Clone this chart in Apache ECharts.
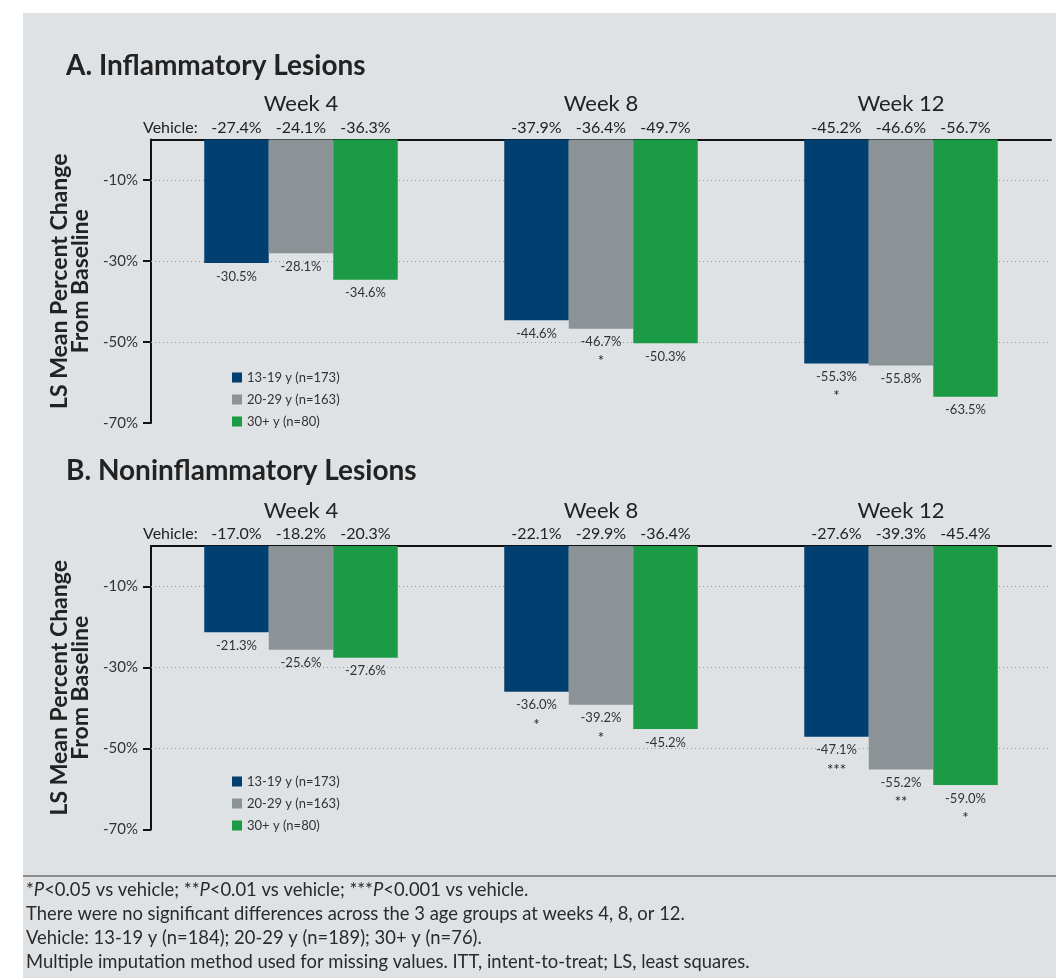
<!DOCTYPE html>
<html>
<head>
<meta charset="utf-8">
<script src="https://cdn.jsdelivr.net/npm/echarts@6/dist/echarts.min.js"></script>
<style>
html, body { margin: 0; padding: 0; background: #fff; }
#chart { width: 1056px; height: 978px; }
</style>
</head>
<body>
<div id="chart"></div>
<script>
var weeks = ['Week 4', 'Week 8', 'Week 12'];
var ageGroups = ['13-19 y (n=173)', '20-29 y (n=163)', '30+ y (n=80)'];
var yTicks = [-70, -50, -30, -10];
var gridLines = [-10, -30, -50];

// A. inflammatory lesions
var inflam13 = [-30.5, -44.6, -55.3];
var inflam20 = [-28.1, -46.7, -55.8];
var inflam30 = [-34.6, -50.3, -63.5];
var inflamSig13 = ['', '', '*'];
var inflamSig20 = ['', '*', ''];
var inflamSig30 = ['', '', ''];
var inflamVehicle = [[-27.4, -24.1, -36.3], [-37.9, -36.4, -49.7], [-45.2, -46.6, -56.7]];

// B. noninflammatory lesions
var nonin13 = [-21.3, -36.0, -47.1];
var nonin20 = [-25.6, -39.2, -55.2];
var nonin30 = [-27.6, -45.2, -59.0];
var noninSig13 = ['', '*', '***'];
var noninSig20 = ['', '*', '**'];
var noninSig30 = ['', '', '*'];
var noninVehicle = [[-17.0, -18.2, -20.3], [-22.1, -29.9, -36.4], [-27.6, -39.3, -45.4]];

var colors = ['#003f6f', '#8b9396', '#1b9b45'];
var font = 'Lato, "Noto Sans", sans-serif';

var chart = echarts.init(document.getElementById('chart'));

function barSeries(name, values, sig, color, idx, withGrid) {
  var s = {
    name: name, type: 'bar', xAxisIndex: idx, yAxisIndex: idx,
    data: values, barWidth: 64.5, barGap: '0%',
    itemStyle: { color: color },
    label: {
      show: true, position: 'bottom', distance: 5,
      formatter: function (p) {
        var m = sig[p.dataIndex];
        return '{v|' + p.value.toFixed(1) + '%}' + (m ? '\n{s|' + m + '}' : '');
      },
      rich: {
        v: { fontSize: 13, color: '#333', lineHeight: 17, fontFamily: font },
        s: { fontSize: 15, color: '#222', lineHeight: 22, fontFamily: font }
      }
    }
  };
  // dotted reference lines, kept under the bars
  if (withGrid) {
    s.markLine = {
      silent: true, symbol: 'none', z: 1, animation: false,
      label: { show: false },
      lineStyle: { color: '#9a9a9a', type: [1, 3], width: 1 },
      data: gridLines.map(function (v) { return { yAxis: v }; })
    };
  }
  return s;
}

function weekAxis(idx, vehicle) {
  return {
    type: 'category', gridIndex: idx, data: weeks, position: 'top',
    axisLine: { lineStyle: { color: '#111', width: 2 } },
    axisTick: { show: false },
    axisLabel: {
      margin: 2, interval: 0,
      formatter: function (v, i) {
        return '{w|' + v + '}\n' + vehicle[i].map(function (x) {
          return '{v|' + x.toFixed(1) + '%}';
        }).join('');
      },
      rich: {
        w: { fontSize: 22, lineHeight: 27, color: '#222', fontFamily: font },
        v: { fontSize: 16, lineHeight: 20, width: 64.5, align: 'center', color: '#222', fontFamily: font }
      }
    }
  };
}

function pctAxis(idx) {
  return {
    type: 'value', gridIndex: idx, min: -70, max: 0,
    name: 'LS Mean Percent Change\nFrom Baseline', nameLocation: 'middle', nameGap: 55, nameRotate: 90,
    nameTextStyle: { fontSize: 23, fontWeight: 'bold', color: '#222', lineHeight: 21, fontFamily: font },
    axisLine: { show: true, lineStyle: { color: '#111', width: 2 } },
    axisTick: { show: true, length: 8, customValues: yTicks, lineStyle: { color: '#111', width: 2 } },
    axisLabel: { customValues: yTicks, formatter: '{value}%', fontSize: 15, color: '#333', margin: 13, fontFamily: font },
    splitLine: { show: false }
  };
}

function legendBox(top) {
  return {
    data: ageGroups, orient: 'vertical', left: 227, top: top,
    itemWidth: 10, itemHeight: 10, itemGap: 9, icon: 'rect', selectedMode: false,
    textStyle: { fontSize: 13, color: '#333', fontFamily: font }
  };
}

function text(x, y, str, size, weight) {
  return {
    type: 'text', silent: true,
    style: { text: str, x: x, y: y, fill: '#222', font: (weight || 'normal') + ' ' + size + 'px ' + font, textVerticalAlign: 'middle' }
  };
}

var noteFont = '18.4px Lato, sans-serif';
function note(y, str) {
  return {
    type: 'text', silent: true,
    style: {
      text: str, x: 26, y: y, fill: '#2a2a2a', font: noteFont, textVerticalAlign: 'middle',
      rich: { i: { font: 'italic ' + noteFont } }
    }
  };
}

chart.setOption({
  backgroundColor: '#dfe2e5',
  animation: false,
  textStyle: { fontFamily: font },
  grid: [
    { left: 151, top: 139.5, width: 900, height: 283.5 },
    { left: 151, top: 546, width: 900, height: 283.5 }
  ],
  xAxis: [weekAxis(0, inflamVehicle), weekAxis(1, noninVehicle)],
  yAxis: [pctAxis(0), pctAxis(1)],
  legend: [legendBox(366), legendBox(770)],
  series: [
    barSeries(ageGroups[0], inflam13, inflamSig13, colors[0], 0, true),
    barSeries(ageGroups[1], inflam20, inflamSig20, colors[1], 0),
    barSeries(ageGroups[2], inflam30, inflamSig30, colors[2], 0),
    barSeries(ageGroups[0], nonin13, noninSig13, colors[0], 1, true),
    barSeries(ageGroups[1], nonin20, noninSig20, colors[1], 1),
    barSeries(ageGroups[2], nonin30, noninSig30, colors[2], 1)
  ],
  graphic: [
    { type: 'rect', silent: true, shape: { x: 0, y: 0, width: 1056, height: 13 }, style: { fill: '#fff' } },
    { type: 'rect', silent: true, shape: { x: 0, y: 0, width: 23, height: 978 }, style: { fill: '#fff' } },
    text(66, 66, 'A. Inflammatory Lesions', 28, 'bold'),
    text(66, 471, 'B. Noninflammatory Lesions', 28, 'bold'),
    text(143, 128, 'Vehicle:', 16),
    text(143, 534, 'Vehicle:', 16),
    { type: 'line', silent: true, shape: { x1: 23, y1: 876, x2: 1056, y2: 876 }, style: { stroke: '#707070', lineWidth: 1.5 } },
    note(890, '*{i|P}<0.05 vs vehicle; **{i|P}<0.01 vs vehicle; ***{i|P}<0.001 vs vehicle.'),
    note(914, 'There were no significant differences across the 3 age groups at weeks 4, 8, or 12.'),
    note(938, 'Vehicle: 13-19 y (n=184); 20-29 y (n=189); 30+ y (n=76).'),
    note(962, 'Multiple imputation method used for missing values. ITT, intent-to-treat; LS, least squares.')
  ]
});
</script>
</body>
</html>
